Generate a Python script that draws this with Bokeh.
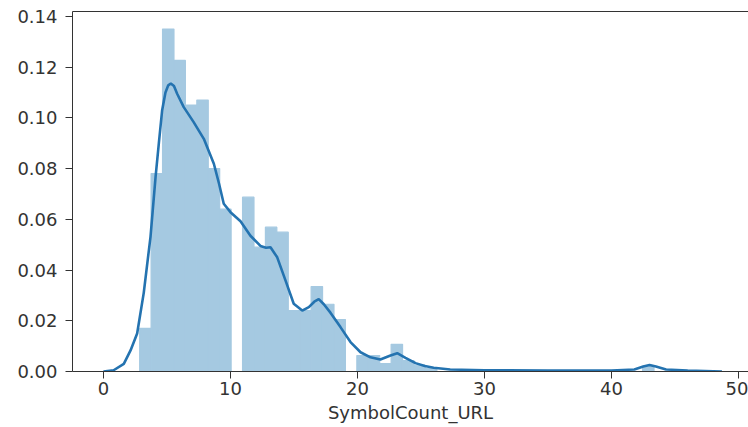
from bokeh.plotting import figure
from bokeh.models import Range1d, LinearAxis, FixedTicker, NumeralTickFormatter
from bokeh.embed import file_html
from bokeh.resources import INLINE

# Histogram (density)
bin_width = 0.9
bin_left = [2.85, 3.75, 4.65, 5.55, 6.45, 7.35, 8.25, 9.15, 10.05, 10.95,
            11.85, 12.75, 13.65, 14.55, 15.45, 16.35, 17.25, 18.15, 19.05,
            19.95, 20.85, 21.75, 22.65, 23.55, 24.45, 25.35, 42.45]
bin_density = [0.017, 0.078, 0.135, 0.1226, 0.105, 0.107, 0.080, 0.064, 0.0,
               0.0687, 0.049, 0.0569, 0.0549, 0.024, 0.024, 0.0335, 0.0265,
               0.0205, 0.0, 0.0063, 0.0063, 0.0031, 0.0107, 0.0043, 0.0025,
               0.0012, 0.002]

# KDE curve
kde_x = [0.0, 0.8, 1.6, 2.13, 2.65, 3.17, 3.7, 4.1, 4.36, 4.62, 4.88, 5.1, 5.3,
         5.55, 5.8, 6.32, 7.1, 7.9, 8.69, 9.1, 9.47, 10.0, 10.79, 11.57, 12.36,
         12.8, 13.15, 13.68, 14.33, 14.98, 15.65, 16.17, 16.6, 16.95, 17.35,
         17.87, 18.66, 19.45, 20.24, 21.02, 21.8, 22.6, 23.13, 23.78, 24.57,
         25.3, 26.0, 27.3, 30.0, 35.0, 40.0, 41.8, 42.5, 43.0, 43.5, 44.3,
         46.0, 48.7]
kde_y = [0.0, 0.0005, 0.003, 0.0083, 0.015, 0.031, 0.053, 0.0766, 0.090, 0.103,
         0.110, 0.1128, 0.1135, 0.1125, 0.1095, 0.1042, 0.0983, 0.0917, 0.0819,
         0.074, 0.0661, 0.0628, 0.0592, 0.0535, 0.0495, 0.0488, 0.049, 0.045,
         0.0359, 0.0267, 0.024, 0.0254, 0.0275, 0.0285, 0.0265, 0.0232, 0.0175,
         0.0116, 0.0076, 0.0056, 0.0047, 0.0063, 0.0072, 0.0054, 0.0033, 0.0022,
         0.0015, 0.0008, 0.0005, 0.0004, 0.0004, 0.0008, 0.002, 0.0026, 0.002,
         0.0008, 0.0004, 0.0]

x_ticks = [0, 10, 20, 30, 40, 50]
y_ticks = [0.0, 0.02, 0.04, 0.06, 0.08, 0.10, 0.12, 0.14]
x_label = "SymbolCount_URL"

FONT = "DejaVu Sans"
TXT = "#333333"
AX = "#333333"
BAR = "#a5c9e1"

p = figure(width=748, height=427, output_backend="svg", toolbar_location=None,
           x_range=Range1d(-2.44, 50.79), y_range=Range1d(0.0, 0.1419),
           min_border_left=72, min_border_right=0, min_border_top=11,
           min_border_bottom=56)
p.outline_line_color = None
p.xgrid.visible = False
p.ygrid.visible = False
p.background_fill_color = "white"
p.border_fill_color = "white"

bin_right = [l + bin_width for l in bin_left]
p.quad(left=bin_left, right=bin_right, bottom=0, top=bin_density,
       fill_color=BAR, line_color=BAR, line_width=1.2)
p.line(kde_x, kde_y, line_color="#2473b0", line_width=2.6)

for ax in (p.xaxis[0], p.yaxis[0]):
    ax.axis_line_color = AX
    ax.major_tick_line_color = AX
    ax.minor_tick_line_color = None
    ax.major_tick_out = 7
    ax.major_tick_in = 0
    ax.major_label_text_font = FONT
    ax.major_label_text_font_size = "18px"
    ax.major_label_text_color = TXT

p.xaxis[0].ticker = FixedTicker(ticks=x_ticks)
p.yaxis[0].ticker = FixedTicker(ticks=y_ticks)
p.yaxis[0].formatter = NumeralTickFormatter(format="0.00")
p.yaxis[0].major_label_standoff = 8
p.xaxis[0].major_label_standoff = 3
p.xaxis[0].axis_label = x_label
p.xaxis[0].axis_label_text_font = FONT
p.xaxis[0].axis_label_text_font_size = "18px"
p.xaxis[0].axis_label_text_font_style = "normal"
p.xaxis[0].axis_label_text_color = TXT
p.xaxis[0].axis_label_standoff = 4

top = LinearAxis(ticker=FixedTicker(ticks=[]), axis_line_color=AX,
                 major_tick_line_color=None, minor_tick_line_color=None,
                 major_label_text_font_size="0px", major_label_standoff=0)
p.add_layout(top, "above")

open("out.html", "w").write(file_html(p, INLINE))
